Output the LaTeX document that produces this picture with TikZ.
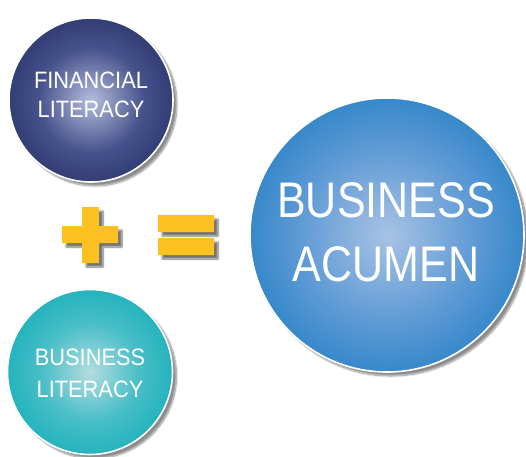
\documentclass[tikz,border=0pt]{standalone}
\usepackage{fontspec}
\usetikzlibrary{shadows.blur}
\newfontfamily\condsmall[FakeStretch=0.92]{Liberation Sans}
\newfontfamily\condbig[FakeStretch=0.86]{Liberation Sans}
\definecolor{finIn}{HTML}{B4BCDC}
\definecolor{finMid}{HTML}{46528C}
\definecolor{finOut}{HTML}{1E2A5C}
\definecolor{busIn}{HTML}{B2DCDF}
\definecolor{busMid}{HTML}{48BEC7}
\definecolor{busOut}{HTML}{12AEB9}
\definecolor{acuIn}{HTML}{A8C2E4}
\definecolor{acuMid}{HTML}{5A98D4}
\definecolor{acuOut}{HTML}{0B75BF}
\definecolor{signY}{HTML}{FCC020}
\pgfdeclareradialshading{finS}{\pgfpoint{0bp}{0bp}}{color(0bp)=(finIn); color(16bp)=(finMid); color(33bp)=(finOut); color(50bp)=(finOut)}
\pgfdeclareradialshading{busS}{\pgfpoint{0bp}{0bp}}{color(0bp)=(busIn); color(15bp)=(busMid); color(30bp)=(busOut); color(50bp)=(busOut)}
\pgfdeclareradialshading{acuS}{\pgfpoint{0bp}{0bp}}{color(0bp)=(acuIn); color(17bp)=(acuMid); color(35bp)=(acuOut); color(50bp)=(acuOut)}
\tikzset{
  ball/.style={circle, draw=white, line width=1.6pt, inner sep=0pt,
    blur shadow={shadow xshift=4pt, shadow yshift=-4pt, shadow blur steps=10, shadow opacity=45}},
  smalltxt/.style={text=white, align=center, inner sep=0pt, font=\condsmall\fontsize{23.7}{29}\selectfont},
  bigtxt/.style={text=white, align=center, inner sep=0pt, font=\condbig\fontsize{50}{64}\selectfont},
  sign/.style={fill=signY, draw=none,
    blur shadow={shadow xshift=4pt, shadow yshift=-4pt, shadow blur steps=8, shadow opacity=55}}
}
\begin{document}
\begin{tikzpicture}[x=1pt,y=-1pt]
\useasboundingbox (0,0) rectangle (526,456);
\node[ball, minimum size=164pt, shading=finS] (fin) at (91,100) {};
\node[ball, minimum size=165pt, shading=busS] (bus) at (90,372) {};
\node[ball, minimum size=274pt, shading=acuS] (acu) at (387,235) {};
\node[smalltxt] (fint) at (91,94.5) {FINANCIAL\\LITERACY};
\node[smalltxt, font=\condsmall\fontsize{23.7}{32}\selectfont] (bust) at (90,373) {BUSINESS\\LITERACY};
\node[bigtxt] (acut) at (386,232) {BUSINESS\\ACUMEN};
% plus sign
\path[sign] (82,207) -- (99,207) -- (99,226) -- (118,226) -- (118,243) -- (99,243)
  -- (99,263) -- (82,263) -- (82,243) -- (62,243) -- (62,226) -- (82,226) -- cycle;
% equals sign
\path[sign] (158,215) rectangle (214,232) (158,238) rectangle (214,255);
\end{tikzpicture}
\end{document}
